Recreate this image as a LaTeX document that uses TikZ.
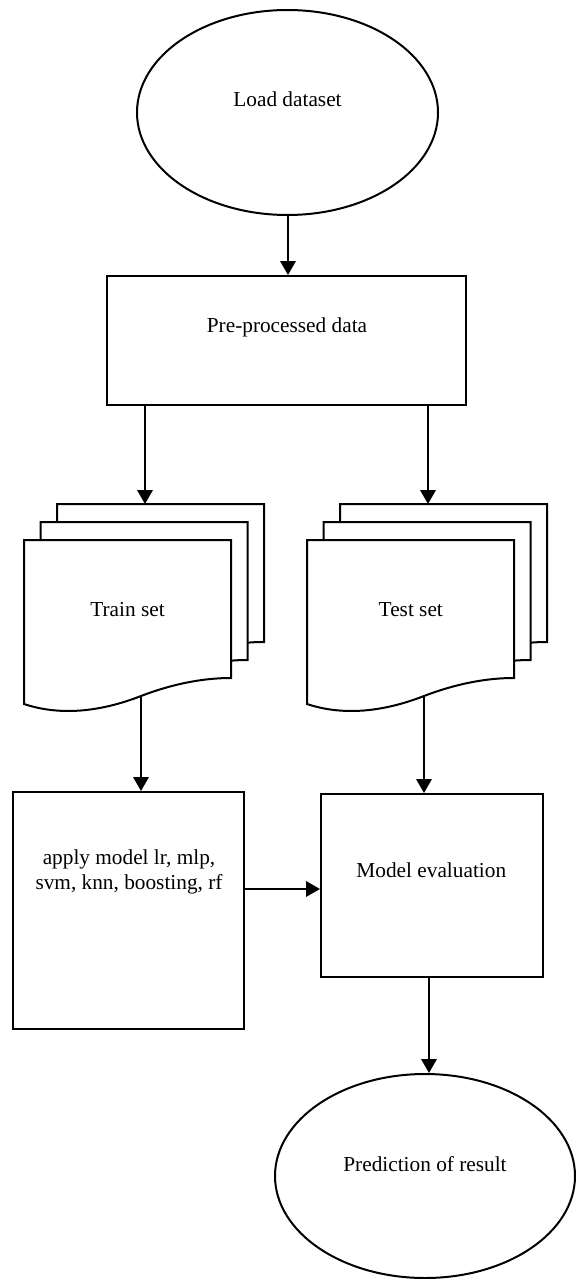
\documentclass[tikz,border=0pt]{standalone}
\usepackage{fontspec}
\setmainfont{Liberation Serif}
\usetikzlibrary{arrows.meta,shapes.geometric,calc}

\tikzset{
  x=1pt, y=-1pt,
  outline/.style={draw, line width=2pt, fill=white, inner sep=0pt},
  oval/.style={outline, ellipse},
  box/.style={outline, rectangle},
  caption/.style={inner sep=0pt, anchor=base, align=center,
                  font=\fontsize{21.3}{25}\selectfont},
  flow/.style={-{Triangle[width=15.5pt,length=14pt]}, line width=2pt},
  % one sheet of a stacked-document symbol, wavy bottom edge
  pics/sheet/.style={code={
    \draw[fill=white, line width=2pt, line join=miter]
      (0,0) -- (0,164)
      .. controls (36,176) and (76,172) .. (117,156)
      .. controls (151,143) and (181,138) .. (207,138)
      -- (207,0) -- cycle;
  }},
}

\begin{document}
\begin{tikzpicture}
  \path[fill=white, use as bounding box] (0,0) rectangle (578,1279);

  % start / end terminals
  \node[oval, minimum width=301pt, minimum height=205pt] (load) at (287.5,112.5) {};
  \node[oval, minimum width=300pt, minimum height=204pt] (pred) at (425,1176) {};

  % process boxes
  \node[box, minimum width=359pt, minimum height=129pt] (pre)   at (286.5,340.5) {};
  \node[box, minimum width=231pt, minimum height=237pt] (apply) at (128.5,910.5) {};
  \node[box, minimum width=222pt, minimum height=183pt] (eval)  at (432,885.5) {};

  % stacked document symbols
  \pic at (57,504)    {sheet};
  \pic at (40.5,522)  {sheet};
  \pic at (24,540)    {sheet};
  \pic at (340,504)   {sheet};
  \pic at (323.5,522) {sheet};
  \pic at (307,540)   {sheet};

  % where connectors meet the document stacks
  \coordinate (top)      at (288,0);
  \coordinate (trainin)  at (145,504);
  \coordinate (trainout) at (141,696);
  \coordinate (testin)   at (428,504);
  \coordinate (testout)  at (424,697);
  \coordinate (side)     at (0,889);
  \coordinate (down)     at (429,0);

  % labels
  \node[caption] (loadtxt)  at (287.5,106.7) {Load dataset};
  \node[caption] (pretxt)   at (287,332.7)   {Pre-processed data};
  \node[caption] (train)    at (127.5,616)   {Train set};
  \node[caption] (test)     at (410.8,616)   {Test set};
  \node[caption] (applytxt) at (129,889)     {apply model lr, mlp,\\svm, knn, boosting, rf};
  \node[caption] (evaltxt)  at (431.3,877.7) {Model evaluation};
  \node[caption] (predtxt)  at (425,1171)    {Prediction of result};

  % connectors
  \draw[flow] (load.south -| top) -- (pre.north -| top);
  \draw[flow] (pre.south -| trainin) -- (trainin);
  \draw[flow] (pre.south -| testin) -- (testin);
  \draw[flow] (trainout) -- (trainout |- apply.north);
  \draw[flow] (testout) -- (testout |- eval.north);
  \draw[flow] (apply.east |- side) -- (eval.west |- side);
  \draw[flow] (eval.south -| down) -- (pred.north -| down);
\end{tikzpicture}
\end{document}
